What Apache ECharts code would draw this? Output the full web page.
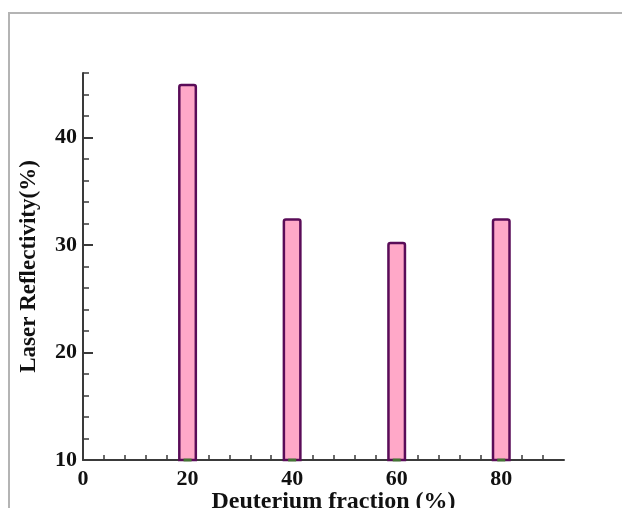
<!DOCTYPE html>
<html>
<head>
<meta charset="utf-8">
<style>
  html, body { margin: 0; padding: 0; background: #ffffff; }
  #chart { width: 622px; height: 508px; }
</style>
<script src="https://cdn.jsdelivr.net/npm/echarts@6/dist/echarts.min.js"></script>
</head>
<body>
<div id="chart"></div>
<script>
// Deuterium fraction (%) of each sample
const fractions = [20, 40, 60, 80];
// Measured laser reflectivity (%)
const reflectivity = [45, 32.5, 30.3, 32.5];

// Axis ranges and tick positions
const xRange = [0, 92];
const yRange = [10, 46];
const xLabelTicks = [0, 20, 40, 60, 80];
const xMinorTicks = [4, 8, 12, 16, 20, 24, 28, 32, 36, 40, 44, 48, 52, 56, 60, 64, 68, 72, 76, 80, 84, 88];
const yMajorTicks = [10, 20, 30, 40];
const yMinorTicks = [12, 14, 16, 18, 22, 24, 26, 28, 32, 34, 36, 38, 42, 44, 46];

const font = '"Liberation Serif", "Times New Roman", serif';
const axisColor = '#3a3a3a';

const chart = echarts.init(document.getElementById('chart'), null, { renderer: 'canvas' });

chart.setOption({
  animation: false,
  backgroundColor: '#ffffff',
  grid: { left: 83, right: 58, top: 73, bottom: 48, containLabel: false, outerBoundsMode: 'none' },
  graphic: [
    // outer frame
    { type: 'line', shape: { x1: 8, y1: 13, x2: 622, y2: 13 }, style: { stroke: '#b4b4b4', lineWidth: 2 } },
    { type: 'line', shape: { x1: 9, y1: 13, x2: 9, y2: 508 }, style: { stroke: '#b4b4b4', lineWidth: 2 } }
  ],
  xAxis: {
    type: 'value',
    min: xRange[0],
    max: xRange[1],
    name: 'Deuterium fraction (%)',
    nameLocation: 'middle',
    nameGap: 30,
    nameMoveOverlap: false,
    nameTextStyle: { fontFamily: font, fontWeight: 'bold', fontSize: 24, color: '#111', padding: [0, 0, 0, 20] },
    axisLine: { show: true, lineStyle: { color: axisColor, width: 2 } },
    axisTick: { show: true, inside: true, length: 5, customValues: xMinorTicks, lineStyle: { color: axisColor, width: 1.5 } },
    axisLabel: { customValues: xLabelTicks, fontFamily: font, fontWeight: 'bold', fontSize: 22, color: '#111', margin: 8 },
    splitLine: { show: false }
  },
  yAxis: [
    {
      type: 'value',
      min: yRange[0],
      max: yRange[1],
      name: 'Laser Reflectivity(%)',
      nameLocation: 'middle',
      nameGap: 42,
      nameMoveOverlap: false,
      nameTextStyle: { fontFamily: font, fontWeight: 'bold', fontSize: 23, color: '#111' },
      axisLine: { show: true, lineStyle: { color: axisColor, width: 2 } },
      axisTick: { show: true, inside: true, length: 10, customValues: yMajorTicks, lineStyle: { color: axisColor, width: 2 } },
      axisLabel: { customValues: yMajorTicks, fontFamily: font, fontWeight: 'bold', fontSize: 22, color: '#111', margin: 6 },
      splitLine: { show: false }
    },
    {
      type: 'value',
      position: 'left',
      min: yRange[0],
      max: yRange[1],
      axisLine: { show: false },
      axisTick: { show: true, inside: true, length: 6, customValues: yMinorTicks, lineStyle: { color: axisColor, width: 1.5 } },
      axisLabel: { show: false },
      splitLine: { show: false }
    }
  ],
  series: [
    {
      type: 'bar',
      yAxisIndex: 0,
      barWidth: 19,
      data: fractions.map((f, i) => [f, reflectivity[i]]),
      itemStyle: {
        color: '#ffa8c8',
        borderColor: '#5a0c58',
        borderWidth: 2.5,
        borderRadius: [2, 2, 0, 0]
      },
      z: 1
    },
    {
      // small green base markers at each bar foot
      type: 'scatter',
      yAxisIndex: 0,
      symbol: 'rect',
      symbolSize: [8, 3],
      data: fractions.map(f => [f, yRange[0]]),
      itemStyle: { color: '#3f8f2a' },
      z: 5,
      silent: true
    }
  ]
});
</script>
</body>
</html>
